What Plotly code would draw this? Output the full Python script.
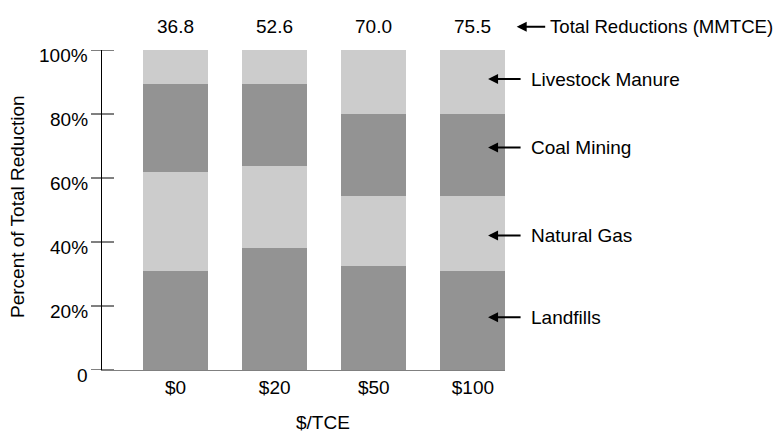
import plotly.graph_objects as go

categories = ["$0", "$20", "$50", "$100"]
totals = ["36.8", "52.6", "70.0", "75.5"]
landfills = [31.0, 38.2, 32.6, 31.0]
natural_gas = [30.9, 25.7, 21.9, 23.5]
coal_mining = [27.5, 25.5, 25.5, 25.5]
livestock = [10.6, 10.6, 20.0, 20.0]
series_names = ["Landfills", "Natural Gas", "Coal Mining", "Livestock Manure"]
tick_vals = [0, 20, 40, 60, 80, 100]
tick_text = ["0", "20%", "40%", "60%", "80%", "100%"]

DARK = "#939393"
LIGHT = "#cccccc"
FONT = "Liberation Sans, Arial, sans-serif"
FS = 19

fig = go.Figure()
for name, vals, col in zip(series_names, [landfills, natural_gas, coal_mining, livestock],
                           [DARK, LIGHT, DARK, LIGHT]):
    fig.add_trace(go.Bar(x=categories, y=vals, name=name, marker=dict(color=col, line=dict(width=0)),
                         width=0.656, showlegend=False, hoverinfo="name+y"))

annotations = []
shapes = []
# y tick labels and crossing ticks
for v, t in zip(tick_vals, tick_text):
    annotations.append(dict(xref="paper", yref="y", x=0, y=v, xanchor="right", yanchor="middle",
                            xshift=-12, yshift=-5, text=t, showarrow=False,
                            font=dict(size=FS, color="#000", family=FONT)))
    shapes.append(dict(type="line", xref="paper", yref="y", xsizemode="pixel", xanchor=0,
                       x0=-11, x1=12, y0=v, y1=v, line=dict(color="#000", width=1)))

# totals above bars
for c, t in zip(categories, totals):
    annotations.append(dict(xref="x", yref="paper", x=c, y=1.073, text=t, showarrow=False,
                            xanchor="center", yanchor="middle",
                            font=dict(size=FS, color="#000", family=FONT)))
annotations.append(dict(xref="paper", yref="paper", x=1.029, y=1.073, ax=30, ay=0, text="",
                        showarrow=True, arrowhead=2, arrowsize=1, arrowwidth=2, arrowcolor="#000"))
annotations.append(dict(xref="paper", yref="paper", x=1.107, y=1.073, text="Total Reductions (MMTCE)",
                        showarrow=False, xanchor="left", yanchor="middle",
                        font=dict(size=18.6, color="#000", family=FONT)))

# series labels with arrows
label_y = [0.165, 0.42, 0.695, 0.909]
for name, ly in zip(series_names, label_y):
    annotations.append(dict(xref="paper", yref="paper", x=0.958, y=ly, ax=34, ay=0, text="",
                            showarrow=True, arrowhead=2, arrowsize=1, arrowwidth=2, arrowcolor="#000"))
    annotations.append(dict(xref="paper", yref="paper", x=1.0587, y=ly, text=name, showarrow=False,
                            xanchor="left", yanchor="middle",
                            font=dict(size=FS, color="#000", family=FONT)))

# axis titles
annotations.append(dict(xref="paper", yref="paper", x=-0.208, y=0.51, text="Percent of Total Reduction",
                        textangle=-90, showarrow=False, xanchor="center", yanchor="middle",
                        font=dict(size=FS, color="#000", family=FONT)))
annotations.append(dict(xref="paper", yref="paper", x=0.549, y=-0.165, text="$/TCE",
                        showarrow=False, xanchor="center", yanchor="middle",
                        font=dict(size=FS, color="#000", family=FONT)))

fig.update_layout(
    width=774, height=425,
    margin=dict(l=94, r=277, t=42, b=63),
    plot_bgcolor="white", paper_bgcolor="white",
    barmode="stack", bargap=0,
    font=dict(family=FONT, size=FS, color="#000"),
    xaxis=dict(type="category", range=[-0.743, 3.324], showline=True, linecolor="#808080", linewidth=1,
               ticks="", showgrid=False, zeroline=False, tickfont=dict(size=FS, color="#000")),
    yaxis=dict(range=[0, 100], showline=True, linecolor="#000", linewidth=1, ticks="",
               showticklabels=False, showgrid=False, zeroline=False, tickvals=tick_vals),
    annotations=annotations,
    shapes=shapes,
)

fig.write_html("out.html")
